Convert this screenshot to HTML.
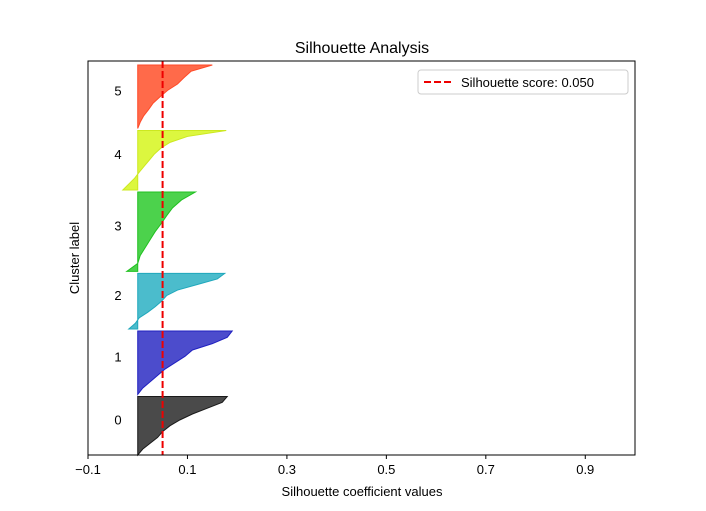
<!DOCTYPE html>
<html><head><meta charset="utf-8"><style>
body{margin:0;background:#fff;}
svg{display:block;font-family:"Liberation Sans","DejaVu Sans",sans-serif;}
</style></head><body>
<svg id="chart" width="706" height="511" viewBox="0 0 706 511">
<rect width="706" height="511" fill="#fff"/>
<text x="362" y="53" font-size="16" text-anchor="middle">Silhouette Analysis</text>
<text x="362" y="496" font-size="13" text-anchor="middle">Silhouette coefficient values</text>
<text transform="translate(79,258) rotate(-90)" font-size="13" text-anchor="middle">Cluster label</text>
<g id="plot"></g>
</svg>
<script>
const clusterLabels = ["0","1","2","3","4","5"];
const clusterSizes = [59,64,56,80,60,64];
const clusterValues = [
 [0.0,0.01,0.025,0.04,0.05,0.065,0.085,0.11,0.14,0.17,0.18],
 [0.0,0.01,0.025,0.04,0.055,0.075,0.095,0.11,0.15,0.18,0.19],
 [-0.018,-0.005,0.003,0.02,0.035,0.048,0.058,0.08,0.12,0.16,0.175],
 [-0.022,0.0,0.005,0.015,0.025,0.035,0.047,0.058,0.07,0.088,0.116],
 [-0.03,-0.018,-0.006,0.003,0.013,0.023,0.033,0.046,0.065,0.1,0.178],
 [0.0,0.005,0.012,0.022,0.031,0.045,0.06,0.08,0.093,0.107,0.15]
];
const silhouetteScore = 0.050;
const xTicks = [-0.1,0.1,0.3,0.5,0.7,0.9];
const xTickLabels = ["\u22120.1","0.1","0.3","0.5","0.7","0.9"];
const fills = ["#4a4a4a","#4c4ccc","#4bbccc","#4cd24c","#dcf73f","#ff6a4a"];
const edges = ["#1a1a1a","#2020c0","#20a8bc","#20c020","#cce820","#ff4a28"];

const L=88,R=635,T=61,B=455,xmin=-0.1,xmax=1.0,gap=2,ymax=397;
const xs=v=>L+(v-xmin)/(xmax-xmin)*(R-L);
const ys=v=>B-v/ymax*(B-T);
const NS="http://www.w3.org/2000/svg";
const g=document.getElementById('plot');
function mk(t,a){const e=document.createElementNS(NS,t);for(const k in a)e.setAttribute(k,a[k]);g.appendChild(e);return e;}

let yl=0;
clusterValues.forEach((vals,i)=>{
  const n=clusterSizes[i];
  let d=`M${xs(0)},${ys(yl)}`;
  vals.forEach((v,j)=>{d+=` L${xs(v)},${ys(yl+n*j/(vals.length-1))}`;});
  d+=` L${xs(0)},${ys(yl+n)} Z`;
  const p=mk('path',{d:d,fill:fills[i],stroke:edges[i],'stroke-width':1});
  
  
  const t=mk('text',{x:118,y:ys(yl+n/2)-1,'font-size':13,'text-anchor':'middle'});
  t.textContent=clusterLabels[i];
  
  
  yl+=n+gap;
});

const sl=mk('line',{x1:xs(silhouetteScore),x2:xs(silhouetteScore),y1:T,y2:B,stroke:'#e00',"stroke-width":2,"stroke-dasharray":"7,3"});



const fr=mk('rect',{x:L,y:T,width:R-L,height:B-T,fill:'none',stroke:'#000','stroke-width':1});



xTicks.forEach((v,i)=>{
  const tl=mk('line',{x1:xs(v),x2:xs(v),y1:B,y2:B+4,stroke:'#000'});
  
  
  const tt=mk('text',{x:xs(v),y:B+19,'font-size':13,'text-anchor':'middle'});
  tt.textContent=xTickLabels[i];
  
  
});

const lg=mk('rect',{x:418,y:70,width:210,height:24,rx:3,fill:'#fff',stroke:'#ccc'});


const ll=mk('line',{x1:424,x2:452,y1:82,y2:82,stroke:'#e00','stroke-width':2,'stroke-dasharray':'7,3'});


const lt=mk('text',{x:461,y:87,'font-size':13});
lt.textContent='Silhouette score: '+silhouetteScore.toFixed(3);


</script>
</body></html>
